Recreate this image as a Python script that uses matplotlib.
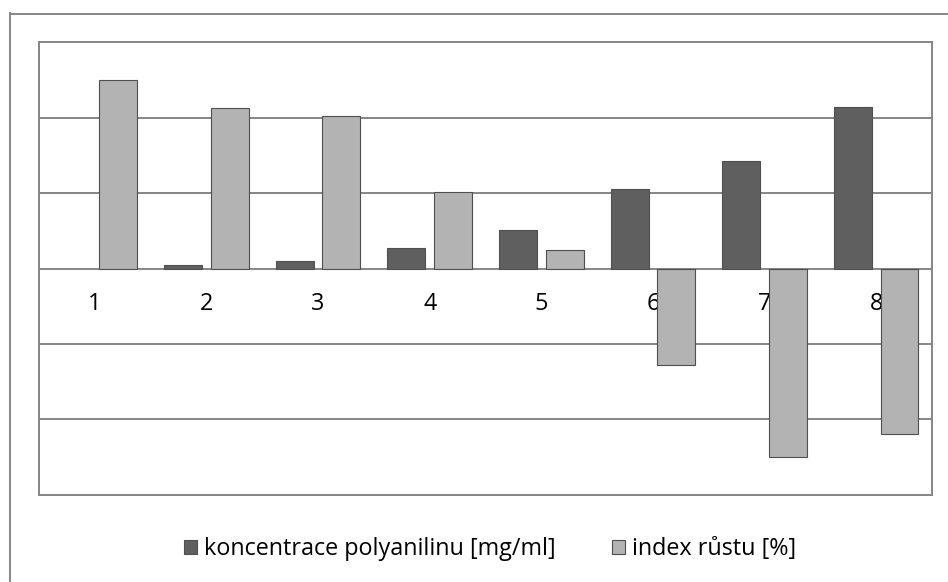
import numpy as np
import matplotlib
matplotlib.use("Agg")
import matplotlib.pyplot as plt
from matplotlib.lines import Line2D
from matplotlib.patches import Patch

# data: eight samples, two series sharing one value axis
categories = ["1", "2", "3", "4", "5", "6", "7", "8"]
koncentrace = [0.0, 2.2, 4.8, 13.5, 25.2, 53.0, 71.2, 107.2]
index_rustu = [124.9, 106.5, 101.2, 50.6, 12.1, -64.3, -124.9, -109.9]
y_ticks = [-100, -50, 0, 50, 100]

DARK = "#5f5f5f"
LIGHT = "#b3b3b3"
EDGE = "#4f4f4f"
GRID = "#868686"
FS = 16.8

plt.rcParams["font.family"] = ["Open Sans", "DejaVu Sans"]

fig = plt.figure(figsize=(9.48, 5.82), dpi=100)
ax = fig.add_axes([39 / 948, 1 - 494.7 / 582, (932 - 39) / 948, (494.7 - 42.3) / 582])

x = np.arange(len(categories))
w = 0.34
off = 0.209
# zero-height bars get no outline
lw_dark = [0.8 if v != 0 else 0 for v in koncentrace]
ax.bar(x - off, koncentrace, width=w, color=DARK, edgecolor=EDGE, linewidth=lw_dark, zorder=3)
ax.bar(x + off, index_rustu, width=w, color=LIGHT, edgecolor=EDGE, linewidth=0.8, zorder=3)

ax.set_xlim(-0.5, len(categories) - 0.5)
ax.set_ylim(-150, 150)
for yv in y_ticks:
    ax.axhline(yv, color=GRID, lw=1.4, zorder=1)

# category labels sit just under the zero line, behind the bars
for xi, lab in zip(x, categories):
    ax.annotate(lab, (xi, 0), xytext=(0, -36), textcoords="offset pixels",
                ha="center", va="center", fontsize=FS, color="black", zorder=2)

ax.set_xticks([])
ax.set_yticks([])
for sp in ax.spines.values():
    sp.set_color(GRID)
    sp.set_linewidth(1.4)

# outer chart frame (runs off the right and bottom edge)
fig.add_artist(Line2D([9.5 / 948, 9.5 / 948], [1 - 13 / 582, 0], transform=fig.transFigure,
                      color=GRID, lw=1.4))
fig.add_artist(Line2D([9.5 / 948, 1], [1 - 13.5 / 582, 1 - 13.5 / 582], transform=fig.transFigure,
                      color=GRID, lw=1.4))

handles = [Patch(facecolor=DARK, edgecolor=EDGE, linewidth=0.8),
           Patch(facecolor=LIGHT, edgecolor=EDGE, linewidth=0.8)]
fig.legend(handles, ["koncentrace polyanilinu [mg/ml]", "index růstu [%]"],
           loc="center", bbox_to_anchor=(490 / 948, 1 - 549 / 582), ncol=2,
           frameon=False, fontsize=FS, handlelength=0.55, handleheight=0.55,
           handletextpad=0.3, columnspacing=2.4)

fig.savefig("out.png", dpi=100)
